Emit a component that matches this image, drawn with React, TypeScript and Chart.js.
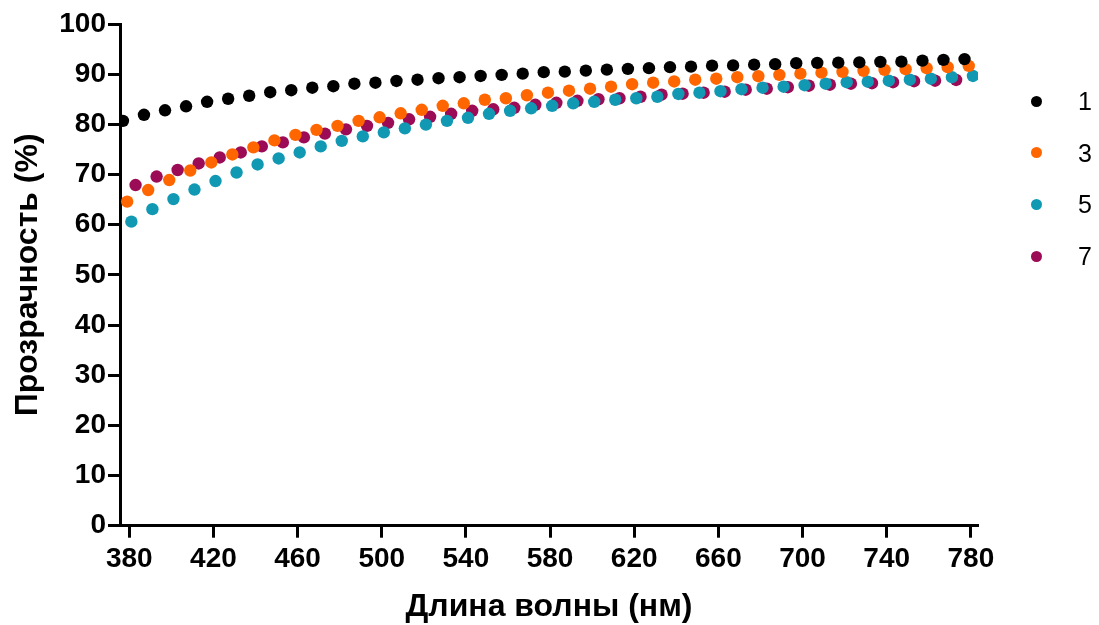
import React, { useEffect, useRef } from "react";
import { Chart, registerables } from "chart.js";

Chart.register(...registerables);

// Wavelengths (nm) for each series
const wl1 = [377, 387, 397, 407, 417, 427, 437, 447, 457, 467, 477, 487, 497, 507, 517, 527, 537, 547, 557, 567, 577, 587, 597, 607, 617, 627, 637, 647, 657, 667, 677, 687, 697, 707, 717, 727, 737, 747, 757, 767, 777];
const wl3 = [379, 389, 399, 409, 419, 429, 439, 449, 459, 469, 479, 489, 499, 509, 519, 529, 539, 549, 559, 569, 579, 589, 599, 609, 619, 629, 639, 649, 659, 669, 679, 689, 699, 709, 719, 729, 739, 749, 759, 769, 779];
const wl5 = [381, 391, 401, 411, 421, 431, 441, 451, 461, 471, 481, 491, 501, 511, 521, 531, 541, 551, 561, 571, 581, 591, 601, 611, 621, 631, 641, 651, 661, 671, 681, 691, 701, 711, 721, 731, 741, 751, 761, 771, 781];
const wl7 = [383, 393, 403, 413, 423, 433, 443, 453, 463, 473, 483, 493, 503, 513, 523, 533, 543, 553, 563, 573, 583, 593, 603, 613, 623, 633, 643, 653, 663, 673, 683, 693, 703, 713, 723, 733, 743, 753, 763, 773];

// Transmittance (%)
const t1 = [80.7, 81.9, 82.8, 83.6, 84.5, 85.1, 85.7, 86.4, 86.8, 87.3, 87.6, 88.1, 88.3, 88.65, 88.9, 89.2, 89.4, 89.65, 89.85, 90.1, 90.4, 90.5, 90.7, 90.9, 91.05, 91.2, 91.4, 91.5, 91.7, 91.75, 91.9, 92.0, 92.2, 92.25, 92.3, 92.35, 92.45, 92.5, 92.7, 92.85, 93.0];
const t3 = [64.6, 66.9, 68.9, 70.8, 72.4, 74.0, 75.4, 76.8, 77.9, 78.9, 79.7, 80.7, 81.4, 82.2, 82.9, 83.7, 84.2, 84.9, 85.2, 85.8, 86.3, 86.7, 87.1, 87.5, 88.0, 88.3, 88.55, 88.9, 89.1, 89.4, 89.6, 89.85, 90.1, 90.3, 90.45, 90.65, 90.85, 91.0, 91.2, 91.4, 91.65];
const t5 = [60.6, 63.1, 65.1, 67.0, 68.7, 70.4, 72.0, 73.2, 74.4, 75.6, 76.7, 77.6, 78.4, 79.2, 79.95, 80.7, 81.3, 82.1, 82.7, 83.2, 83.7, 84.2, 84.5, 84.9, 85.2, 85.5, 86.05, 86.3, 86.6, 87.0, 87.3, 87.5, 87.8, 88.1, 88.4, 88.5, 88.7, 88.9, 89.1, 89.4, 89.65];
const t7 = [67.9, 69.6, 70.9, 72.2, 73.4, 74.4, 75.6, 76.4, 77.4, 78.15, 79.0, 79.7, 80.3, 81.0, 81.5, 82.1, 82.7, 83.0, 83.3, 83.9, 84.3, 84.7, 85.0, 85.2, 85.5, 85.9, 86.1, 86.3, 86.5, 86.9, 87.1, 87.4, 87.7, 87.9, 88.1, 88.2, 88.4, 88.6, 88.7, 88.85];

const seriesLabels = ["1", "3", "5", "7"];
const seriesColors = ["#000000", "#FF6600", "#1199B4", "#9B0B56"];
const xTickValues = [380, 420, 460, 500, 540, 580, 620, 660, 700, 740, 780];
const xTitle = "Длина волны (нм)";
const yTitle = "Прозрачность (%)";

const FONT = '"Liberation Sans", Arial, sans-serif';

export default function App() {
  const ref = useRef<HTMLCanvasElement | null>(null);

  useEffect(() => {
    if (!ref.current) return;
    const xs = [wl1, wl3, wl5, wl7];
    const ys = [t1, t3, t5, t7];
    const datasets = ys.map((vals, i) => ({
      label: seriesLabels[i],
      data: vals.map((v, j) => ({ x: xs[i][j], y: v })),
      backgroundColor: seriesColors[i],
      borderColor: seriesColors[i],
      borderWidth: 0,
      pointRadius: 6.2,
      pointHoverRadius: 6.2,
      showLine: false,
    }));
    const tickFont = { family: FONT, size: 28, weight: "bold" as const };
    const titleFont = { family: FONT, size: 32, weight: "bold" as const };
    const chart = new Chart(ref.current, {
      type: "scatter",
      data: { datasets },
      options: {
        animation: false,
        responsive: true,
        maintainAspectRatio: false,
        events: [],
        layout: { padding: { top: 24, right: 121, bottom: 0, left: 0 } },
        plugins: {
          legend: { display: false },
          tooltip: { enabled: false },
        },
        scales: {
          x: {
            type: "linear",
            min: 375.6,
            max: 783.4,
            afterBuildTicks: (axis: any) => {
              axis.ticks = xTickValues.map((v) => ({ value: v }));
            },
            afterFit: (s: any) => {
              s.height = 99.3;
            },
            grid: {
              display: true,
              drawOnChartArea: false,
              drawTicks: true,
              tickLength: 12,
              tickWidth: 3,
              tickColor: "#000",
              color: "#000",
            },
            border: { display: true, width: 3, color: "#000" },
            ticks: {
              font: tickFont,
              color: "#000",
              padding: 5,
              maxRotation: 0,
              autoSkip: false,
            },
            title: {
              display: true,
              text: xTitle,
              font: titleFont,
              color: "#000",
              padding: { top: 0, bottom: -1 },
            },
          },
          y: {
            type: "linear",
            min: 0,
            max: 100,
            afterFit: (s: any) => {
              s.width = 120;
            },
            grid: {
              display: true,
              drawOnChartArea: false,
              drawTicks: true,
              tickLength: 12,
              tickWidth: 3,
              tickColor: "#000",
              color: "#000",
            },
            border: { display: true, width: 3, color: "#000" },
            ticks: {
              stepSize: 10,
              font: tickFont,
              color: "#000",
              padding: 2,
            },
            title: {
              display: true,
              text: yTitle,
              font: titleFont,
              color: "#000",
              padding: { top: 9, bottom: 0 },
            },
          },
        },
      },
    });
    return () => chart.destroy();
  }, []);

  return (
    <div
      style={{
        position: "fixed",
        left: 0,
        top: 0,
        width: 1099,
        height: 625,
        background: "#fff",
      }}
    >
      <canvas ref={ref} />
      {seriesLabels.map((lab, i) => (
        <div
          key={lab}
          style={{
            position: "absolute",
            left: 1020,
            top: 101 + i * 51.7 - 15,
            height: 30,
            width: 79,
            fontFamily: FONT,
            fontSize: 25,
            lineHeight: "30px",
            color: "#000",
          }}
        >
          <span
            style={{
              position: "absolute",
              left: 10.5,
              top: 9.5,
              width: 11,
              height: 11,
              borderRadius: "50%",
              background: seriesColors[i],
            }}
          />
          <span style={{ position: "absolute", left: 58 }}>{lab}</span>
        </div>
      ))}
    </div>
  );
}
